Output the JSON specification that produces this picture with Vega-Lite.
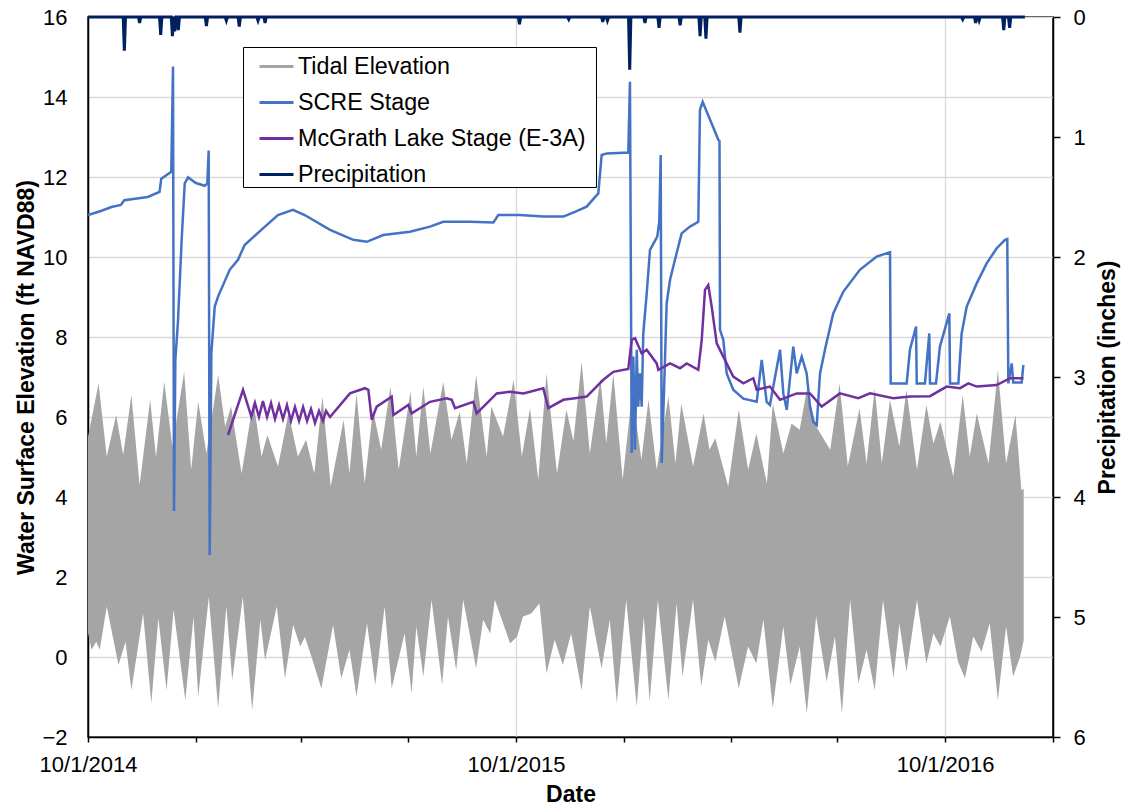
{
  "$schema": "https://vega.github.io/schema/vega-lite/v6.json",
  "width": 965,
  "height": 720,
  "autosize": {"type": "none"},
  "padding": {"left": 88, "top": 17, "right": 69, "bottom": 72},
  "background": "white",
  "config": {
    "font": "Liberation Sans",
    "view": {"stroke": "black", "strokeWidth": 1.5},
    "axis": {
      "labelFont": "Liberation Sans", "titleFont": "Liberation Sans",
      "labelFontSize": 22, "titleFontSize": 23, "titleFontWeight": "bold",
      "labelColor": "black", "titleColor": "black",
      "domainColor": "black", "domainWidth": 1.5,
      "tickColor": "black", "tickWidth": 1.5
    }
  },
  "datasets": {
    "tidal": [
      {"date": "2014-10-01", "edge": "top", "v": 5.5},
      {"date": "2014-10-10", "edge": "top", "v": 6.84},
      {"date": "2014-10-17", "edge": "top", "v": 5.01},
      {"date": "2014-10-25", "edge": "top", "v": 6.05},
      {"date": "2014-10-31", "edge": "top", "v": 5.05},
      {"date": "2014-11-07", "edge": "top", "v": 6.55},
      {"date": "2014-11-14", "edge": "top", "v": 4.3},
      {"date": "2014-11-23", "edge": "top", "v": 6.43},
      {"date": "2014-11-28", "edge": "top", "v": 5.0},
      {"date": "2014-12-05", "edge": "top", "v": 6.88},
      {"date": "2014-12-12", "edge": "top", "v": 5.26},
      {"date": "2014-12-22", "edge": "top", "v": 7.13},
      {"date": "2014-12-28", "edge": "top", "v": 4.68},
      {"date": "2015-01-03", "edge": "top", "v": 6.38},
      {"date": "2015-01-10", "edge": "top", "v": 5.09},
      {"date": "2015-01-20", "edge": "top", "v": 7.05},
      {"date": "2015-01-26", "edge": "top", "v": 5.76},
      {"date": "2015-01-31", "edge": "top", "v": 6.26},
      {"date": "2015-02-09", "edge": "top", "v": 4.59},
      {"date": "2015-02-19", "edge": "top", "v": 6.4},
      {"date": "2015-02-26", "edge": "top", "v": 5.01},
      {"date": "2015-03-03", "edge": "top", "v": 5.55},
      {"date": "2015-03-12", "edge": "top", "v": 4.76},
      {"date": "2015-03-21", "edge": "top", "v": 6.09},
      {"date": "2015-03-29", "edge": "top", "v": 5.01},
      {"date": "2015-04-05", "edge": "top", "v": 5.43},
      {"date": "2015-04-12", "edge": "top", "v": 4.59},
      {"date": "2015-04-19", "edge": "top", "v": 6.51},
      {"date": "2015-04-26", "edge": "top", "v": 4.26},
      {"date": "2015-05-07", "edge": "top", "v": 5.93},
      {"date": "2015-05-12", "edge": "top", "v": 4.59},
      {"date": "2015-05-18", "edge": "top", "v": 6.59},
      {"date": "2015-05-25", "edge": "top", "v": 4.34},
      {"date": "2015-06-01", "edge": "top", "v": 6.18},
      {"date": "2015-06-08", "edge": "top", "v": 5.18},
      {"date": "2015-06-16", "edge": "top", "v": 6.76},
      {"date": "2015-06-23", "edge": "top", "v": 4.68},
      {"date": "2015-07-03", "edge": "top", "v": 6.64},
      {"date": "2015-07-08", "edge": "top", "v": 5.01},
      {"date": "2015-07-14", "edge": "top", "v": 6.76},
      {"date": "2015-07-20", "edge": "top", "v": 5.09},
      {"date": "2015-07-31", "edge": "top", "v": 6.88},
      {"date": "2015-08-07", "edge": "top", "v": 5.43},
      {"date": "2015-08-14", "edge": "top", "v": 6.13},
      {"date": "2015-08-20", "edge": "top", "v": 4.84},
      {"date": "2015-08-28", "edge": "top", "v": 7.05},
      {"date": "2015-09-06", "edge": "top", "v": 5.01},
      {"date": "2015-09-10", "edge": "top", "v": 6.26},
      {"date": "2015-09-20", "edge": "top", "v": 5.51},
      {"date": "2015-09-29", "edge": "top", "v": 6.93},
      {"date": "2015-10-06", "edge": "top", "v": 5.01},
      {"date": "2015-10-13", "edge": "top", "v": 6.22},
      {"date": "2015-10-20", "edge": "top", "v": 4.43},
      {"date": "2015-10-27", "edge": "top", "v": 7.09},
      {"date": "2015-11-05", "edge": "top", "v": 4.59},
      {"date": "2015-11-13", "edge": "top", "v": 6.18},
      {"date": "2015-11-19", "edge": "top", "v": 5.4},
      {"date": "2015-11-26", "edge": "top", "v": 7.38},
      {"date": "2015-12-03", "edge": "top", "v": 5.09},
      {"date": "2015-12-12", "edge": "top", "v": 6.97},
      {"date": "2015-12-17", "edge": "top", "v": 5.34},
      {"date": "2015-12-23", "edge": "top", "v": 7.09},
      {"date": "2015-12-31", "edge": "top", "v": 4.43},
      {"date": "2016-01-08", "edge": "top", "v": 6.6},
      {"date": "2016-01-16", "edge": "top", "v": 4.93},
      {"date": "2016-01-22", "edge": "top", "v": 6.43},
      {"date": "2016-01-29", "edge": "top", "v": 4.68},
      {"date": "2016-02-08", "edge": "top", "v": 6.51},
      {"date": "2016-02-14", "edge": "top", "v": 4.84},
      {"date": "2016-02-19", "edge": "top", "v": 6.34},
      {"date": "2016-02-29", "edge": "top", "v": 4.76},
      {"date": "2016-03-09", "edge": "top", "v": 6.09},
      {"date": "2016-03-14", "edge": "top", "v": 5.18},
      {"date": "2016-03-19", "edge": "top", "v": 5.47},
      {"date": "2016-03-30", "edge": "top", "v": 4.26},
      {"date": "2016-04-08", "edge": "top", "v": 6.18},
      {"date": "2016-04-16", "edge": "top", "v": 4.68},
      {"date": "2016-04-23", "edge": "top", "v": 5.59},
      {"date": "2016-05-02", "edge": "top", "v": 4.34},
      {"date": "2016-05-07", "edge": "top", "v": 6.34},
      {"date": "2016-05-16", "edge": "top", "v": 5.09},
      {"date": "2016-05-23", "edge": "top", "v": 5.84},
      {"date": "2016-05-30", "edge": "top", "v": 5.68},
      {"date": "2016-06-05", "edge": "top", "v": 6.68},
      {"date": "2016-06-13", "edge": "top", "v": 5.76},
      {"date": "2016-06-25", "edge": "top", "v": 5.18},
      {"date": "2016-07-03", "edge": "top", "v": 6.84},
      {"date": "2016-07-10", "edge": "top", "v": 4.76},
      {"date": "2016-07-20", "edge": "top", "v": 6.22},
      {"date": "2016-07-26", "edge": "top", "v": 4.84},
      {"date": "2016-08-02", "edge": "top", "v": 6.72},
      {"date": "2016-08-08", "edge": "top", "v": 4.84},
      {"date": "2016-08-15", "edge": "top", "v": 6.43},
      {"date": "2016-08-23", "edge": "top", "v": 5.26},
      {"date": "2016-08-29", "edge": "top", "v": 6.68},
      {"date": "2016-09-07", "edge": "top", "v": 4.68},
      {"date": "2016-09-15", "edge": "top", "v": 6.3},
      {"date": "2016-09-21", "edge": "top", "v": 5.34},
      {"date": "2016-09-27", "edge": "top", "v": 5.88},
      {"date": "2016-10-08", "edge": "top", "v": 4.51},
      {"date": "2016-10-16", "edge": "top", "v": 6.55},
      {"date": "2016-10-22", "edge": "top", "v": 5.01},
      {"date": "2016-10-28", "edge": "top", "v": 6.09},
      {"date": "2016-11-07", "edge": "top", "v": 4.84},
      {"date": "2016-11-15", "edge": "top", "v": 7.18},
      {"date": "2016-11-22", "edge": "top", "v": 4.84},
      {"date": "2016-11-30", "edge": "top", "v": 6.05},
      {"date": "2016-12-05", "edge": "top", "v": 4.18},
      {"date": "2016-12-07", "edge": "top", "v": 4.2},
      {"date": "2014-10-01", "edge": "bot", "v": 0.6},
      {"date": "2014-10-04", "edge": "bot", "v": 0.18},
      {"date": "2014-10-08", "edge": "bot", "v": 0.38},
      {"date": "2014-10-11", "edge": "bot", "v": 0.18},
      {"date": "2014-10-17", "edge": "bot", "v": 1.26},
      {"date": "2014-10-27", "edge": "bot", "v": -0.2},
      {"date": "2014-11-02", "edge": "bot", "v": 0.38},
      {"date": "2014-11-07", "edge": "bot", "v": -0.83},
      {"date": "2014-11-17", "edge": "bot", "v": 1.09},
      {"date": "2014-11-24", "edge": "bot", "v": -1.16},
      {"date": "2014-11-30", "edge": "bot", "v": 0.97},
      {"date": "2014-12-07", "edge": "bot", "v": -0.83},
      {"date": "2014-12-13", "edge": "bot", "v": 1.18},
      {"date": "2014-12-23", "edge": "bot", "v": -1.08},
      {"date": "2014-12-30", "edge": "bot", "v": 1.0},
      {"date": "2015-01-03", "edge": "bot", "v": -1.0},
      {"date": "2015-01-12", "edge": "bot", "v": 1.5},
      {"date": "2015-01-20", "edge": "bot", "v": -1.28},
      {"date": "2015-01-27", "edge": "bot", "v": 1.26},
      {"date": "2015-02-01", "edge": "bot", "v": -0.58},
      {"date": "2015-02-10", "edge": "bot", "v": 1.5},
      {"date": "2015-02-18", "edge": "bot", "v": -1.33},
      {"date": "2015-02-25", "edge": "bot", "v": 0.93},
      {"date": "2015-03-01", "edge": "bot", "v": -0.08},
      {"date": "2015-03-11", "edge": "bot", "v": 1.26},
      {"date": "2015-03-18", "edge": "bot", "v": -0.54},
      {"date": "2015-03-25", "edge": "bot", "v": 0.8},
      {"date": "2015-03-31", "edge": "bot", "v": 0.26},
      {"date": "2015-04-04", "edge": "bot", "v": 0.5},
      {"date": "2015-04-10", "edge": "bot", "v": -0.03},
      {"date": "2015-04-18", "edge": "bot", "v": -0.79},
      {"date": "2015-04-28", "edge": "bot", "v": 0.8},
      {"date": "2015-05-05", "edge": "bot", "v": -0.54},
      {"date": "2015-05-12", "edge": "bot", "v": 0.18},
      {"date": "2015-05-18", "edge": "bot", "v": -0.99},
      {"date": "2015-05-27", "edge": "bot", "v": 0.84},
      {"date": "2015-06-03", "edge": "bot", "v": -0.7},
      {"date": "2015-06-11", "edge": "bot", "v": 1.26},
      {"date": "2015-06-17", "edge": "bot", "v": -0.78},
      {"date": "2015-06-28", "edge": "bot", "v": 0.59},
      {"date": "2015-07-04", "edge": "bot", "v": -0.91},
      {"date": "2015-07-08", "edge": "bot", "v": 0.76},
      {"date": "2015-07-14", "edge": "bot", "v": -0.49},
      {"date": "2015-07-21", "edge": "bot", "v": 1.43},
      {"date": "2015-07-30", "edge": "bot", "v": -0.7},
      {"date": "2015-08-04", "edge": "bot", "v": 1.01},
      {"date": "2015-08-11", "edge": "bot", "v": -0.33},
      {"date": "2015-08-17", "edge": "bot", "v": 1.43},
      {"date": "2015-08-28", "edge": "bot", "v": -0.28},
      {"date": "2015-09-03", "edge": "bot", "v": 0.93},
      {"date": "2015-09-09", "edge": "bot", "v": 0.59},
      {"date": "2015-09-13", "edge": "bot", "v": 1.43},
      {"date": "2015-09-26", "edge": "bot", "v": 0.34},
      {"date": "2015-10-02", "edge": "bot", "v": 0.51},
      {"date": "2015-10-07", "edge": "bot", "v": 1.01},
      {"date": "2015-10-14", "edge": "bot", "v": 1.09},
      {"date": "2015-10-21", "edge": "bot", "v": 1.34},
      {"date": "2015-10-27", "edge": "bot", "v": -0.41},
      {"date": "2015-11-03", "edge": "bot", "v": 0.43},
      {"date": "2015-11-10", "edge": "bot", "v": -0.2},
      {"date": "2015-11-17", "edge": "bot", "v": 0.59},
      {"date": "2015-11-26", "edge": "bot", "v": -0.83},
      {"date": "2015-12-03", "edge": "bot", "v": 1.26},
      {"date": "2015-12-13", "edge": "bot", "v": -0.28},
      {"date": "2015-12-20", "edge": "bot", "v": 0.93},
      {"date": "2015-12-26", "edge": "bot", "v": -1.16},
      {"date": "2016-01-03", "edge": "bot", "v": 1.43},
      {"date": "2016-01-12", "edge": "bot", "v": -1.24},
      {"date": "2016-01-18", "edge": "bot", "v": 1.01},
      {"date": "2016-01-23", "edge": "bot", "v": -1.12},
      {"date": "2016-01-30", "edge": "bot", "v": 1.43},
      {"date": "2016-02-08", "edge": "bot", "v": -1.08},
      {"date": "2016-02-15", "edge": "bot", "v": 1.34},
      {"date": "2016-02-20", "edge": "bot", "v": -0.49},
      {"date": "2016-02-29", "edge": "bot", "v": 1.43},
      {"date": "2016-03-07", "edge": "bot", "v": -0.74},
      {"date": "2016-03-13", "edge": "bot", "v": 0.43},
      {"date": "2016-03-19", "edge": "bot", "v": -0.12},
      {"date": "2016-03-27", "edge": "bot", "v": 1.01},
      {"date": "2016-04-08", "edge": "bot", "v": -0.78},
      {"date": "2016-04-16", "edge": "bot", "v": 0.26},
      {"date": "2016-04-23", "edge": "bot", "v": -0.16},
      {"date": "2016-04-29", "edge": "bot", "v": 0.93},
      {"date": "2016-05-07", "edge": "bot", "v": -1.28},
      {"date": "2016-05-16", "edge": "bot", "v": 0.76},
      {"date": "2016-05-22", "edge": "bot", "v": -0.7},
      {"date": "2016-05-30", "edge": "bot", "v": 0.26},
      {"date": "2016-06-05", "edge": "bot", "v": -1.41},
      {"date": "2016-06-13", "edge": "bot", "v": 1.01},
      {"date": "2016-06-22", "edge": "bot", "v": -0.62},
      {"date": "2016-06-29", "edge": "bot", "v": 0.51},
      {"date": "2016-07-05", "edge": "bot", "v": -1.41},
      {"date": "2016-07-12", "edge": "bot", "v": 1.43},
      {"date": "2016-07-19", "edge": "bot", "v": -0.66},
      {"date": "2016-07-26", "edge": "bot", "v": 0.18},
      {"date": "2016-08-02", "edge": "bot", "v": -0.83},
      {"date": "2016-08-09", "edge": "bot", "v": 1.43},
      {"date": "2016-08-18", "edge": "bot", "v": -0.53},
      {"date": "2016-08-23", "edge": "bot", "v": 0.84},
      {"date": "2016-08-29", "edge": "bot", "v": -0.37},
      {"date": "2016-09-07", "edge": "bot", "v": 1.43},
      {"date": "2016-09-15", "edge": "bot", "v": -0.16},
      {"date": "2016-09-21", "edge": "bot", "v": 0.59},
      {"date": "2016-09-27", "edge": "bot", "v": 0.26},
      {"date": "2016-10-05", "edge": "bot", "v": 1.01},
      {"date": "2016-10-12", "edge": "bot", "v": -0.12},
      {"date": "2016-10-18", "edge": "bot", "v": -0.53},
      {"date": "2016-10-25", "edge": "bot", "v": 0.51},
      {"date": "2016-11-01", "edge": "bot", "v": 0.13},
      {"date": "2016-11-08", "edge": "bot", "v": 0.84},
      {"date": "2016-11-15", "edge": "bot", "v": -1.08},
      {"date": "2016-11-22", "edge": "bot", "v": 0.76},
      {"date": "2016-11-28", "edge": "bot", "v": -0.49},
      {"date": "2016-12-04", "edge": "bot", "v": 0.01},
      {"date": "2016-12-07", "edge": "bot", "v": 0.42}
    ],
    "scre": [
      {"date": "2014-10-01", "v": 11.05},
      {"date": "2014-10-12", "v": 11.15},
      {"date": "2014-10-21", "v": 11.25},
      {"date": "2014-10-29", "v": 11.3},
      {"date": "2014-11-01", "v": 11.42},
      {"date": "2014-11-21", "v": 11.5},
      {"date": "2014-12-01", "v": 11.63},
      {"date": "2014-12-02T12:00Z", "v": 11.96},
      {"date": "2014-12-11", "v": 12.13},
      {"date": "2014-12-12T12:00Z", "v": 14.76},
      {"date": "2014-12-13T08:00Z", "v": 3.65},
      {"date": "2014-12-14T12:00Z", "v": 7.43},
      {"date": "2014-12-16T18:00Z", "v": 8.4},
      {"date": "2014-12-20", "v": 10.5},
      {"date": "2014-12-22T12:00Z", "v": 11.84},
      {"date": "2014-12-25T08:00Z", "v": 11.99},
      {"date": "2015-01-01", "v": 11.85},
      {"date": "2015-01-08T12:00Z", "v": 11.78},
      {"date": "2015-01-10T18:00Z", "v": 11.84},
      {"date": "2015-01-11T22:00Z", "v": 12.66},
      {"date": "2015-01-12T19:00Z", "v": 2.55},
      {"date": "2015-01-14T05:00Z", "v": 7.6},
      {"date": "2015-01-17T02:00Z", "v": 8.76},
      {"date": "2015-01-19T22:00Z", "v": 9.01},
      {"date": "2015-01-29T20:00Z", "v": 9.68},
      {"date": "2015-02-05T22:00Z", "v": 9.93},
      {"date": "2015-02-11T14:00Z", "v": 10.3},
      {"date": "2015-02-25T19:00Z", "v": 10.68},
      {"date": "2015-03-12", "v": 11.05},
      {"date": "2015-03-24T19:00Z", "v": 11.18},
      {"date": "2015-04-03T19:00Z", "v": 11.05},
      {"date": "2015-04-25T10:00Z", "v": 10.68},
      {"date": "2015-05-15T07:00Z", "v": 10.43},
      {"date": "2015-05-26T17:00Z", "v": 10.38},
      {"date": "2015-06-09T19:00Z", "v": 10.55},
      {"date": "2015-07-02T14:00Z", "v": 10.63},
      {"date": "2015-07-19T17:00Z", "v": 10.76},
      {"date": "2015-07-31", "v": 10.88},
      {"date": "2015-08-22T19:00Z", "v": 10.88},
      {"date": "2015-09-11T17:00Z", "v": 10.86},
      {"date": "2015-09-15T22:00Z", "v": 11.05},
      {"date": "2015-10-04T10:00Z", "v": 11.05},
      {"date": "2015-10-24T07:00Z", "v": 11.01},
      {"date": "2015-11-10T10:00Z", "v": 11.01},
      {"date": "2015-11-20T07:00Z", "v": 11.13},
      {"date": "2015-11-30T07:00Z", "v": 11.26},
      {"date": "2015-12-10T05:00Z", "v": 11.59},
      {"date": "2015-12-13T02:00Z", "v": 12.55},
      {"date": "2015-12-17T10:00Z", "v": 12.59},
      {"date": "2016-01-04T19:00Z", "v": 12.61},
      {"date": "2016-01-06T05:00Z", "v": 14.38},
      {"date": "2016-01-07T17:00Z", "v": 5.1},
      {"date": "2016-01-09T02:00Z", "v": 7.51},
      {"date": "2016-01-10T12:00Z", "v": 5.18},
      {"date": "2016-01-12", "v": 7.68},
      {"date": "2016-01-13T07:00Z", "v": 6.26},
      {"date": "2016-01-14T19:00Z", "v": 7.09},
      {"date": "2016-01-16T05:00Z", "v": 6.26},
      {"date": "2016-01-17T14:00Z", "v": 8.09},
      {"date": "2016-01-20T12:00Z", "v": 9.09},
      {"date": "2016-01-23T07:00Z", "v": 10.18},
      {"date": "2016-01-29T12:00Z", "v": 10.51},
      {"date": "2016-01-31T05:00Z", "v": 10.88},
      {"date": "2016-02-01T10:00Z", "v": 12.55},
      {"date": "2016-02-02T07:00Z", "v": 4.85},
      {"date": "2016-02-05T02:00Z", "v": 7.43},
      {"date": "2016-02-06T12:00Z", "v": 8.84},
      {"date": "2016-02-09T10:00Z", "v": 9.43},
      {"date": "2016-02-13T14:00Z", "v": 9.93},
      {"date": "2016-02-19T07:00Z", "v": 10.59},
      {"date": "2016-02-26T10:00Z", "v": 10.76},
      {"date": "2016-03-04T12:00Z", "v": 10.88},
      {"date": "2016-03-05T22:00Z", "v": 13.68},
      {"date": "2016-03-08T05:00Z", "v": 13.88},
      {"date": "2016-03-11T17:00Z", "v": 13.63},
      {"date": "2016-03-21T14:00Z", "v": 12.93},
      {"date": "2016-03-22T14:00Z", "v": 12.9},
      {"date": "2016-03-23", "v": 8.18},
      {"date": "2016-03-25T19:00Z", "v": 7.93},
      {"date": "2016-03-28T17:00Z", "v": 7.09},
      {"date": "2016-04-03T07:00Z", "v": 6.68},
      {"date": "2016-04-11T22:00Z", "v": 6.46},
      {"date": "2016-04-23T07:00Z", "v": 6.38},
      {"date": "2016-04-27T14:00Z", "v": 7.43},
      {"date": "2016-05-01T19:00Z", "v": 6.38},
      {"date": "2016-05-04T14:00Z", "v": 6.3},
      {"date": "2016-05-13T05:00Z", "v": 7.68},
      {"date": "2016-05-16", "v": 6.59},
      {"date": "2016-05-18T22:00Z", "v": 6.18},
      {"date": "2016-05-24T12:00Z", "v": 7.76},
      {"date": "2016-05-27T10:00Z", "v": 7.09},
      {"date": "2016-05-31T17:00Z", "v": 7.51},
      {"date": "2016-06-04T22:00Z", "v": 7.09},
      {"date": "2016-06-07T19:00Z", "v": 6.26},
      {"date": "2016-06-10T14:00Z", "v": 5.88},
      {"date": "2016-06-13T12:00Z", "v": 5.8},
      {"date": "2016-06-16T07:00Z", "v": 7.09},
      {"date": "2016-06-20T12:00Z", "v": 7.68},
      {"date": "2016-06-27T14:00Z", "v": 8.59},
      {"date": "2016-07-06T02:00Z", "v": 9.13},
      {"date": "2016-07-20T07:00Z", "v": 9.68},
      {"date": "2016-08-03T14:00Z", "v": 10.01},
      {"date": "2016-08-15", "v": 10.12},
      {"date": "2016-08-15T14:00Z", "v": 6.84},
      {"date": "2016-08-29T05:00Z", "v": 6.84},
      {"date": "2016-09-01", "v": 7.68},
      {"date": "2016-09-06T05:00Z", "v": 8.26},
      {"date": "2016-09-06T19:00Z", "v": 6.84},
      {"date": "2016-09-13T19:00Z", "v": 6.84},
      {"date": "2016-09-17T12:00Z", "v": 8.09},
      {"date": "2016-09-18T02:00Z", "v": 6.84},
      {"date": "2016-09-23T05:00Z", "v": 6.84},
      {"date": "2016-09-26T14:00Z", "v": 7.76},
      {"date": "2016-10-04T14:00Z", "v": 8.59},
      {"date": "2016-10-05T05:00Z", "v": 6.84},
      {"date": "2016-10-12T07:00Z", "v": 6.84},
      {"date": "2016-10-15T02:00Z", "v": 8.09},
      {"date": "2016-10-19T10:00Z", "v": 8.76},
      {"date": "2016-10-27T22:00Z", "v": 9.34},
      {"date": "2016-11-05T10:00Z", "v": 9.84},
      {"date": "2016-11-14", "v": 10.22},
      {"date": "2016-11-21T02:00Z", "v": 10.43},
      {"date": "2016-11-23", "v": 10.45},
      {"date": "2016-11-23T22:00Z", "v": 6.84},
      {"date": "2016-11-26T19:00Z", "v": 7.34},
      {"date": "2016-11-28T02:00Z", "v": 6.86},
      {"date": "2016-12-05T07:00Z", "v": 6.86},
      {"date": "2016-12-06T17:00Z", "v": 7.3}
    ],
    "mcgrath": [
      {"date": "2015-01-28T10:00Z", "v": 5.55},
      {"date": "2015-02-10T05:00Z", "v": 6.68},
      {"date": "2015-02-17T07:00Z", "v": 6.01},
      {"date": "2015-02-20T10:00Z", "v": 6.35},
      {"date": "2015-02-23T19:00Z", "v": 6.0},
      {"date": "2015-02-27T05:00Z", "v": 6.4},
      {"date": "2015-03-02T17:00Z", "v": 6.0},
      {"date": "2015-03-06T02:00Z", "v": 6.35},
      {"date": "2015-03-09T12:00Z", "v": 5.95},
      {"date": "2015-03-12T22:00Z", "v": 6.3},
      {"date": "2015-03-16T07:00Z", "v": 5.95},
      {"date": "2015-03-19T17:00Z", "v": 6.3},
      {"date": "2015-03-23T02:00Z", "v": 5.9},
      {"date": "2015-03-26T12:00Z", "v": 6.25},
      {"date": "2015-03-30", "v": 5.9},
      {"date": "2015-04-02T10:00Z", "v": 6.25},
      {"date": "2015-04-05T19:00Z", "v": 5.9},
      {"date": "2015-04-09T05:00Z", "v": 6.2},
      {"date": "2015-04-12T14:00Z", "v": 5.85},
      {"date": "2015-04-16", "v": 6.15},
      {"date": "2015-04-19T10:00Z", "v": 5.9},
      {"date": "2015-04-22", "v": 6.15},
      {"date": "2015-04-25T10:00Z", "v": 6.0},
      {"date": "2015-05-12T10:00Z", "v": 6.59},
      {"date": "2015-05-25T05:00Z", "v": 6.72},
      {"date": "2015-05-28T02:00Z", "v": 6.68},
      {"date": "2015-05-31", "v": 5.93},
      {"date": "2015-06-04T05:00Z", "v": 6.26},
      {"date": "2015-06-17", "v": 6.51},
      {"date": "2015-06-18T10:00Z", "v": 6.05},
      {"date": "2015-07-01T05:00Z", "v": 6.3},
      {"date": "2015-07-04T02:00Z", "v": 6.09},
      {"date": "2015-07-19T17:00Z", "v": 6.38},
      {"date": "2015-08-02T22:00Z", "v": 6.47},
      {"date": "2015-08-07T05:00Z", "v": 6.43},
      {"date": "2015-08-10", "v": 6.22},
      {"date": "2015-08-25T14:00Z", "v": 6.38},
      {"date": "2015-08-28T12:00Z", "v": 6.09},
      {"date": "2015-09-14T14:00Z", "v": 6.59},
      {"date": "2015-09-25T22:00Z", "v": 6.63},
      {"date": "2015-10-07T07:00Z", "v": 6.59},
      {"date": "2015-10-24T07:00Z", "v": 6.72},
      {"date": "2015-10-28T14:00Z", "v": 6.22},
      {"date": "2015-11-10T10:00Z", "v": 6.43},
      {"date": "2015-11-20T07:00Z", "v": 6.47},
      {"date": "2015-11-30T07:00Z", "v": 6.51},
      {"date": "2015-12-14T12:00Z", "v": 6.93},
      {"date": "2015-12-23", "v": 7.13},
      {"date": "2016-01-04T19:00Z", "v": 7.2},
      {"date": "2016-01-07T17:00Z", "v": 7.93},
      {"date": "2016-01-10T12:00Z", "v": 7.97},
      {"date": "2016-01-16T05:00Z", "v": 7.59},
      {"date": "2016-01-20T12:00Z", "v": 7.68},
      {"date": "2016-01-29", "v": 7.34},
      {"date": "2016-01-30T10:00Z", "v": 7.18},
      {"date": "2016-02-09T10:00Z", "v": 7.34},
      {"date": "2016-02-17T22:00Z", "v": 7.22},
      {"date": "2016-02-23T14:00Z", "v": 7.34},
      {"date": "2016-03-04T12:00Z", "v": 7.18},
      {"date": "2016-03-07T10:00Z", "v": 7.93},
      {"date": "2016-03-10T05:00Z", "v": 9.18},
      {"date": "2016-03-13", "v": 9.3},
      {"date": "2016-03-15T22:00Z", "v": 8.76},
      {"date": "2016-03-20T05:00Z", "v": 7.84},
      {"date": "2016-03-25T19:00Z", "v": 7.51},
      {"date": "2016-04-03T07:00Z", "v": 7.01},
      {"date": "2016-04-11T22:00Z", "v": 6.84},
      {"date": "2016-04-20T10:00Z", "v": 6.97},
      {"date": "2016-04-23T07:00Z", "v": 6.68},
      {"date": "2016-05-04T14:00Z", "v": 6.76},
      {"date": "2016-05-13T05:00Z", "v": 6.43},
      {"date": "2016-05-27T10:00Z", "v": 6.59},
      {"date": "2016-06-07T19:00Z", "v": 6.59},
      {"date": "2016-06-17T17:00Z", "v": 6.26},
      {"date": "2016-07-03T07:00Z", "v": 6.59},
      {"date": "2016-07-18T22:00Z", "v": 6.47},
      {"date": "2016-07-28T22:00Z", "v": 6.59},
      {"date": "2016-08-17T19:00Z", "v": 6.47},
      {"date": "2016-09-01", "v": 6.51},
      {"date": "2016-09-18T02:00Z", "v": 6.52},
      {"date": "2016-10-02T07:00Z", "v": 6.76},
      {"date": "2016-10-13T17:00Z", "v": 6.72},
      {"date": "2016-10-20T19:00Z", "v": 6.84},
      {"date": "2016-10-27T22:00Z", "v": 6.76},
      {"date": "2016-11-14", "v": 6.8},
      {"date": "2016-11-25T07:00Z", "v": 6.97},
      {"date": "2016-12-06T17:00Z", "v": 6.97}
    ],
    "precip": [
      {"date": "2014-10-01", "p": 0},
      {"date": "2014-10-31", "p": 0}, {"date": "2014-11-01", "p": 0.28}, {"date": "2014-11-02", "p": 0},
      {"date": "2014-11-13", "p": 0}, {"date": "2014-11-14", "p": 0.05}, {"date": "2014-11-15", "p": 0},
      {"date": "2014-12-01", "p": 0}, {"date": "2014-12-02", "p": 0.15}, {"date": "2014-12-03", "p": 0},
      {"date": "2014-12-11", "p": 0}, {"date": "2014-12-12", "p": 0.16}, {"date": "2014-12-13", "p": 0},
      {"date": "2014-12-14", "p": 0.12}, {"date": "2014-12-15", "p": 0}, {"date": "2014-12-16", "p": 0},
      {"date": "2014-12-17", "p": 0.11}, {"date": "2014-12-18", "p": 0},
      {"date": "2015-01-09", "p": 0}, {"date": "2015-01-10", "p": 0.075}, {"date": "2015-01-11", "p": 0},
      {"date": "2015-01-26", "p": 0}, {"date": "2015-01-27", "p": 0.03}, {"date": "2015-01-28", "p": 0},
      {"date": "2015-02-06", "p": 0}, {"date": "2015-02-07", "p": 0.08}, {"date": "2015-02-08", "p": 0},
      {"date": "2015-02-22", "p": 0}, {"date": "2015-02-23", "p": 0.03}, {"date": "2015-02-24", "p": 0},
      {"date": "2015-02-28", "p": 0}, {"date": "2015-03-01", "p": 0.05}, {"date": "2015-03-02", "p": 0},
      {"date": "2015-10-03", "p": 0}, {"date": "2015-10-04", "p": 0.06}, {"date": "2015-10-05", "p": 0},
      {"date": "2015-11-14", "p": 0}, {"date": "2015-11-15", "p": 0.02}, {"date": "2015-11-16", "p": 0},
      {"date": "2015-12-13", "p": 0}, {"date": "2015-12-14", "p": 0.04}, {"date": "2015-12-15", "p": 0},
      {"date": "2015-12-17", "p": 0}, {"date": "2015-12-18", "p": 0.03}, {"date": "2015-12-19", "p": 0},
      {"date": "2016-01-05", "p": 0}, {"date": "2016-01-06", "p": 0.44}, {"date": "2016-01-07", "p": 0},
      {"date": "2016-01-18", "p": 0}, {"date": "2016-01-19", "p": 0.05}, {"date": "2016-01-20", "p": 0},
      {"date": "2016-01-30", "p": 0}, {"date": "2016-01-31", "p": 0.09}, {"date": "2016-02-01", "p": 0},
      {"date": "2016-02-17", "p": 0}, {"date": "2016-02-18", "p": 0.07}, {"date": "2016-02-19", "p": 0},
      {"date": "2016-03-05", "p": 0}, {"date": "2016-03-06", "p": 0.16}, {"date": "2016-03-07", "p": 0},
      {"date": "2016-03-10", "p": 0}, {"date": "2016-03-11", "p": 0.18}, {"date": "2016-03-12", "p": 0},
      {"date": "2016-04-08", "p": 0}, {"date": "2016-04-09", "p": 0.13}, {"date": "2016-04-10", "p": 0},
      {"date": "2016-10-15", "p": 0}, {"date": "2016-10-16", "p": 0.02}, {"date": "2016-10-17", "p": 0},
      {"date": "2016-10-26", "p": 0}, {"date": "2016-10-27", "p": 0.05}, {"date": "2016-10-28", "p": 0},
      {"date": "2016-10-29", "p": 0}, {"date": "2016-10-30", "p": 0.03}, {"date": "2016-10-31", "p": 0},
      {"date": "2016-11-19", "p": 0}, {"date": "2016-11-20", "p": 0.11}, {"date": "2016-11-21", "p": 0},
      {"date": "2016-11-24", "p": 0}, {"date": "2016-11-25", "p": 0.09}, {"date": "2016-11-26", "p": 0},
      {"date": "2016-12-08", "p": 0}
    ]
  },
  "layer": [
    {
      "layer": [
        {
          "data": {"name": "tidal"},
          "mark": {"type": "area", "interpolate": "linear"},
          "encoding": {
            "x": {
              "field": "date", "type": "temporal", "title": "Date",
              "scale": {"type": "utc", "domain": [{"year": 2014, "month": 10, "date": 1, "utc": true}, {"year": 2017, "month": 1, "date": 1, "utc": true}]},
              "axis": {
                "values": [
                  {"year": 2014, "month": 10, "date": 1, "utc": true},
                  {"year": 2015, "month": 1, "date": 1, "utc": true},
                  {"year": 2015, "month": 4, "date": 1, "utc": true},
                  {"year": 2015, "month": 7, "date": 1, "utc": true},
                  {"year": 2015, "month": 10, "date": 1, "utc": true},
                  {"year": 2016, "month": 1, "date": 1, "utc": true},
                  {"year": 2016, "month": 4, "date": 1, "utc": true},
                  {"year": 2016, "month": 7, "date": 1, "utc": true},
                  {"year": 2016, "month": 10, "date": 1, "utc": true},
                  {"year": 2017, "month": 1, "date": 1, "utc": true}
                ],
                "labelExpr": "utcmonth(datum.value) === 9 ? utcFormat(datum.value, '%-m/%-d/%Y') : ''",
                "labelOverlap": false, "labelFlush": false, "labelBound": false,
                "tickSize": 5, "labelPadding": 12, "titlePadding": 8,
                "grid": true, "gridColor": "#D9D9D9", "gridWidth": 1.3,
                "gridOpacity": {"condition": {"test": "utcmonth(datum.value) === 9", "value": 1}, "value": 0}
              }
            },
            "y": {
              "field": "v", "type": "quantitative", "stack": null,
              "title": "Water Surface Elevation (ft NAVD88)",
              "scale": {"domain": [-2, 16], "nice": false, "zero": false},
              "axis": {
                "values": [-2, 0, 2, 4, 6, 8, 10, 12, 14, 16],
                "grid": true, "gridColor": "#D9D9D9", "gridWidth": 1.3,
                "ticks": false, "labelPadding": 21, "titlePadding": 3
              }
            },
            "y2": {"datum": 3},
            "detail": {"field": "edge"},
            "color": {
              "datum": "Tidal Elevation", "type": "nominal",
              "scale": {
                "domain": ["Tidal Elevation", "SCRE Stage", "McGrath Lake Stage (E-3A)", "Precipitation"],
                "range": ["#A5A5A5", "#4472C4", "#7030A0", "#002060"]
              },
              "legend": {
                "orient": "none", "legendX": 155, "legendY": 30,
                "title": "\u00a0", "titleOrient": "right", "titlePadding": 10, "titleFontSize": 10,
                "symbolType": "stroke", "symbolSize": 1156, "symbolStrokeWidth": 3,
                "labelFont": "Liberation Sans", "labelFontSize": 23.3, "labelColor": "black", "labelLimit": 500,
                "padding": 1, "rowPadding": 6, "labelOffset": 3, "symbolOffset": 14,
                "fillColor": "white", "strokeColor": "black",
                "encode": {"symbols": {"update": {"stroke": {"scale": "color", "field": "value"}, "strokeWidth": {"value": 3}, "fill": {"value": "transparent"}}}}
              }
            }
          }
        },
        {
          "data": {"name": "scre"},
          "mark": {"type": "line", "strokeWidth": 2.5},
          "encoding": {
            "x": {"field": "date", "type": "temporal"},
            "y": {"field": "v", "type": "quantitative"},
            "color": {"datum": "SCRE Stage", "type": "nominal"}
          }
        },
        {
          "data": {"name": "mcgrath"},
          "mark": {"type": "line", "strokeWidth": 2.5},
          "encoding": {
            "x": {"field": "date", "type": "temporal"},
            "y": {"field": "v", "type": "quantitative"},
            "color": {"datum": "McGrath Lake Stage (E-3A)", "type": "nominal"}
          }
        }
      ]
    },
    {
      "data": {"name": "precip"},
      "mark": {"type": "line", "strokeWidth": 3, "clip": false},
      "encoding": {
        "x": {"field": "date", "type": "temporal"},
        "y": {
          "field": "p", "type": "quantitative", "title": "Precipitation (inches)",
          "scale": {"domain": [0, 6], "reverse": true, "nice": false},
          "axis": {
            "orient": "right", "values": [0, 1, 2, 3, 4, 5, 6], "grid": false,
            "tickSize": 7, "labelPadding": 13, "titlePadding": 11,
            "titleAngle": 270, "titleBaseline": "top"
          }
        },
        "color": {"datum": "Precipitation", "type": "nominal"}
      }
    }
  ],
  "resolve": {"scale": {"y": "independent"}}
}
